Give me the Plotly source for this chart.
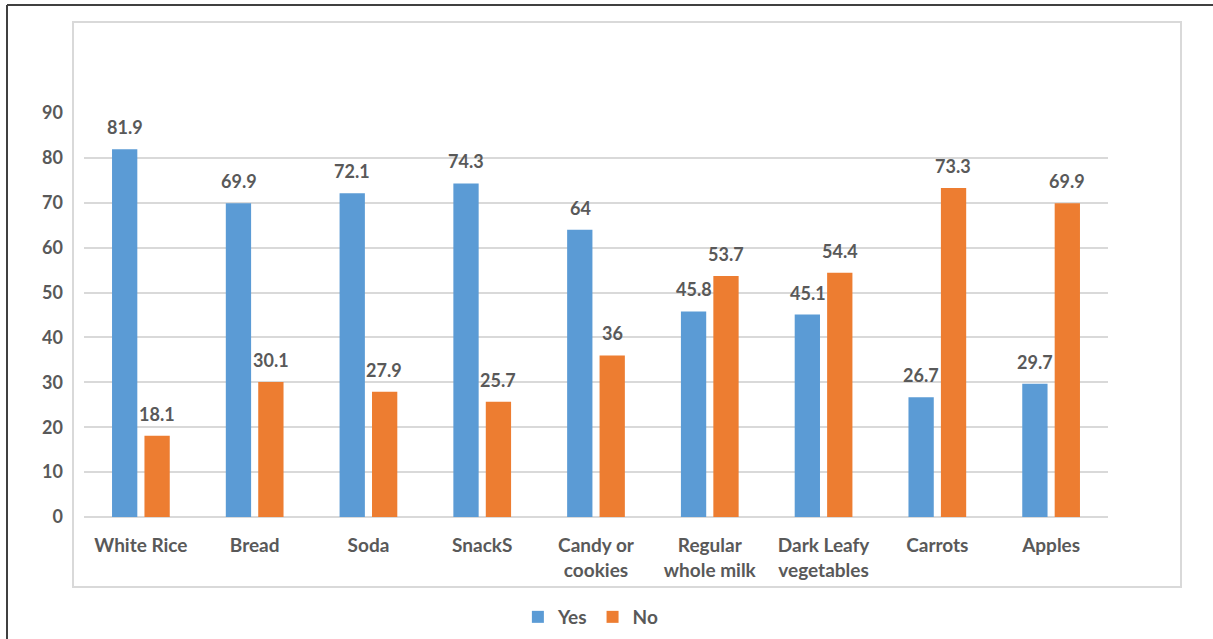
import plotly.graph_objects as go

categories = ["White Rice", "Bread", "Soda", "SnackS", "Candy or<br>cookies",
              "Regular<br>whole milk", "Dark Leafy<br>vegetables", "Carrots", "Apples"]
yes_vals = [81.9, 69.9, 72.1, 74.3, 64, 45.8, 45.1, 26.7, 29.7]
no_vals = [18.1, 30.1, 27.9, 25.7, 36, 53.7, 54.4, 73.3, 69.9]
y_ticks = [0, 10, 20, 30, 40, 50, 60, 70, 80, 90]

BLUE = "#5b9bd5"
ORANGE = "#ed7d31"
GRAY = "#595959"
FONT = "Lato"
FS = 18

W, H = 1213, 639
L, R, T, B = 84, 105, 113, 122

fig = go.Figure()
fig.add_bar(name="Yes", x=categories, y=yes_vals, marker_color=BLUE,
            marker_line_width=0)
fig.add_bar(name="No", x=categories, y=no_vals, marker_color=ORANGE,
            marker_line_width=0)

annos = []
for vals, dx in ((yes_vals, -16), (no_vals, 16)):
    for c, v in zip(categories, vals):
        annos.append(dict(x=c, y=v, xref="x", yref="y", text=f"{v:g}", showarrow=False,
                          xshift=dx, yshift=9, yanchor="bottom",
                          font=dict(family=FONT, size=FS, color=GRAY, weight="bold")))

pw = W - L - R
ph = H - T - B
def px_x(x):
    return (x - L) / pw
def px_y(y):
    return (H - B - y) / ph

shapes = [
    dict(type="rect", xref="paper", yref="paper",
         x0=px_x(73), x1=px_x(1181), y0=px_y(587), y1=px_y(22),
         line=dict(color="#d9d9d9", width=2), fillcolor="rgba(0,0,0,0)", layer="below"),
    dict(type="line", xref="paper", yref="paper",
         x0=px_x(7), x1=px_x(7), y0=px_y(639), y1=px_y(5),
         line=dict(color="#404040", width=2)),
    dict(type="line", xref="paper", yref="paper",
         x0=px_x(7), x1=px_x(1213), y0=px_y(5), y1=px_y(5),
         line=dict(color="#404040", width=2)),
]

fig.update_layout(
    width=W, height=H,
    margin=dict(l=L, r=R, t=T, b=B, autoexpand=False),
    paper_bgcolor="white", plot_bgcolor="white",
    barmode="group", bargap=0.43, bargroupgap=0.22,
    font=dict(family=FONT, size=FS, color=GRAY),
    showlegend=True,
    legend=dict(orientation="h", x=0.495, xanchor="center", y=px_y(617), yanchor="middle",
                font=dict(family=FONT, size=19, color=GRAY, weight="bold"),
                itemwidth=30, traceorder="normal"),
    annotations=annos,
    shapes=shapes,
)
fig.update_xaxes(showgrid=False, showline=False, ticks="",
                 tickfont=dict(family=FONT, size=19, color=GRAY, weight="bold"),
                 ticklabelstandoff=15)
fig.update_yaxes(range=[0, 90], tickvals=y_ticks, showgrid=True, gridcolor="#d9d9d9",
                 gridwidth=1.5, zeroline=True, zerolinecolor="#d9d9d9", zerolinewidth=1.5,
                 showline=False, ticks="",
                 tickfont=dict(family=FONT, size=FS, color=GRAY, weight="bold"),
                 ticklabelstandoff=20)

fig.write_html("out.html")
